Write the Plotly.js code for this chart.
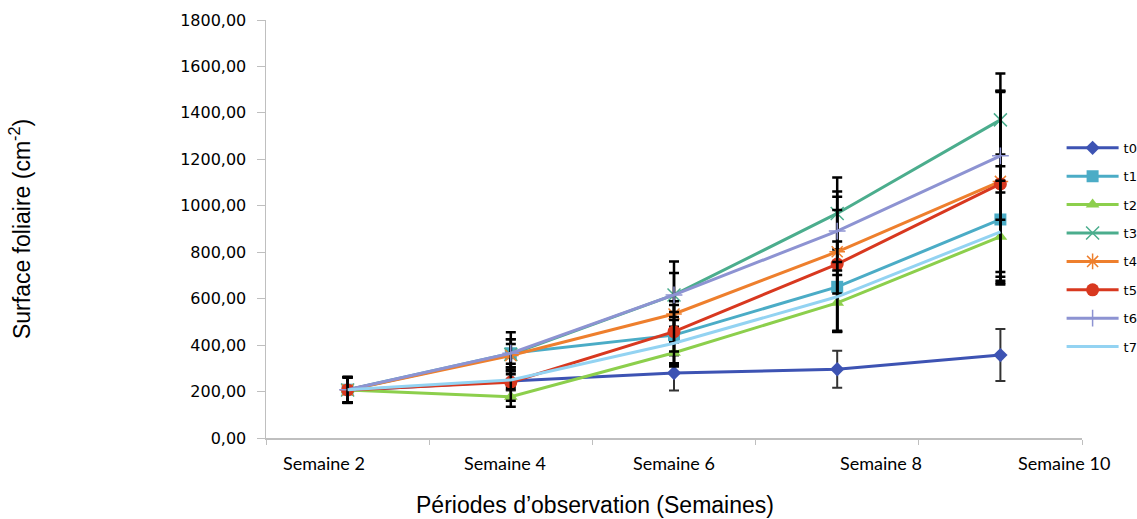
<!DOCTYPE html>
<html>
<head>
<meta charset="utf-8">
<script src="https://cdn.plot.ly/plotly-3.0.1.min.js"></script>
<style>html,body{margin:0;padding:0;background:#fff;}#chart{width:1137px;height:519px;}</style>
</head>
<body>
<div id="chart"></div>
<script>
// ---- data ----
var weeks = ["Semaine 2", "Semaine 4", "Semaine 6", "Semaine 8", "Semaine 10"];
var seriesNames = ["t0", "t1", "t2", "t3", "t4", "t5", "t6", "t7"];

var t0 = [205, 245, 280, 296, 357];
var t1 = [208, 365, 443, 651, 941];
var t2 = [207, 178, 367, 582, 867];
var t3 = [207, 360, 616, 967, 1370];
var t4 = [207, 355, 534, 802, 1105];
var t5 = [207, 240, 458, 749, 1094];
var t6 = [208, 365, 616, 891, 1215];
var t7 = [208, 250, 408, 608, 888];

var t0Err = [55, 40, 75, 80, 112];
var t1Err = [55, 90, 130, 195, 280];
var t2Err = [55, 43, 45, 120, 190];
var t3Err = [55, 65, 144, 155, 200];
var t4Err = [55, 50, 55, 180, 390];
var t5Err = [55, 80, 85, 290, 400];
var t6Err = [55, 60, 95, 170, 275];
var t7Err = [55, 40, 100, 150, 220];

var yTickValues = [0, 200, 400, 600, 800, 1000, 1200, 1400, 1600, 1800];

// ---- styling ----
var values = [t0, t1, t2, t3, t4, t5, t6, t7];
var errors = [t0Err, t1Err, t2Err, t3Err, t4Err, t5Err, t6Err, t7Err];
var colors = ["#3D53B3", "#4BACC6", "#8CCF4C", "#4BAD8D", "#EE7F2D", "#D8381F", "#8D93D2", "#93D3F2"];
var markers = [
  {symbol: "diamond", size: 11},
  {symbol: "square", size: 12},
  {symbol: "triangle-up", size: 12},
  {symbol: "x-thin-open", size: 13, line: {width: 1.5}},
  {symbol: "asterisk-open", size: 13, line: {width: 1.5}},
  {symbol: "circle", size: 13},
  {symbol: "cross-thin-open", size: 12, line: {width: 1.5}},
  null
];

var traces = seriesNames.map(function (name, i) {
  var tr = {
    type: "scatter",
    mode: markers[i] ? "lines+markers" : "lines",
    name: name,
    legendgroup: name,
    x: weeks,
    y: values[i],
    line: {color: colors[i], width: 3},
    error_y: {type: "data", array: errors[i], visible: true,
              color: i === 0 ? "#333333" : "#000000",
              thickness: i === 0 ? 2 : 2.5, width: 5}
  };
  if (markers[i]) {
    var m = Object.assign({color: colors[i]}, markers[i]);
    if (m.line) m.line = Object.assign({color: colors[i]}, m.line);
    tr.marker = m;
  }
  return tr;
});

var labelShift = [-24, -6, 0, 44, 64];
var annotations = weeks.map(function (w, i) {
  return {x: w, xref: "x", y: 0, yref: "paper", yanchor: "middle", yshift: -25,
          xshift: labelShift[i], text: w, showarrow: false,
          font: {family: "Lato, 'Noto Sans', sans-serif", size: 18, color: "#000"}};
});
annotations.push({
  x: (595 - 266) / (1082 - 266), xref: "paper",
  y: (438 - 505) / (438 - 19.5), yref: "paper", yanchor: "middle",
  showarrow: false,
  text: "Périodes d’observation (Semaines)",
  font: {family: "'Liberation Sans', Arial, sans-serif", size: 23, color: "#000"}
});

var layout = {
  width: 1137, height: 519,
  margin: {l: 266, r: 55, t: 19.5, b: 81, autoexpand: false},
  paper_bgcolor: "#fff", plot_bgcolor: "#fff",
  separators: ", ",
  showlegend: true,
  legend: {x: 0.975, xanchor: "left", y: 0.73, yanchor: "top",
           itemwidth: 52,
           font: {family: "'DejaVu Sans', Verdana, sans-serif", size: 13, color: "#000"},
           tracegroupgap: 8.5, bgcolor: "rgba(0,0,0,0)"},
  xaxis: {
    type: "category", range: [-0.5, 4.5],
    showline: true, linecolor: "#BFBFBF", linewidth: 1.5,
    ticks: "outside", tickson: "boundaries", ticklen: 5, tickcolor: "#BFBFBF",
    showticklabels: false, showgrid: false, zeroline: false
  },
  yaxis: {
    range: [0, 1800], tickvals: yTickValues, tickformat: ".2f",
    showline: true, linecolor: "#BFBFBF", linewidth: 1.5,
    ticks: "outside", ticklen: 8, tickcolor: "#BFBFBF",
    showgrid: false, zeroline: false,
    ticklabelstandoff: 7,
    tickfont: {family: "'DejaVu Sans', Verdana, sans-serif", size: 16, color: "#000"},
    title: {text: "Surface foliaire (cm<sup>-2</sup>)", standoff: 143,
            font: {family: "'Liberation Sans', Arial, sans-serif", size: 23, color: "#000"}}
  },
  annotations: annotations
};

Plotly.newPlot("chart", traces, layout, {displayModeBar: false, staticPlot: true});
</script>
</body>
</html>
